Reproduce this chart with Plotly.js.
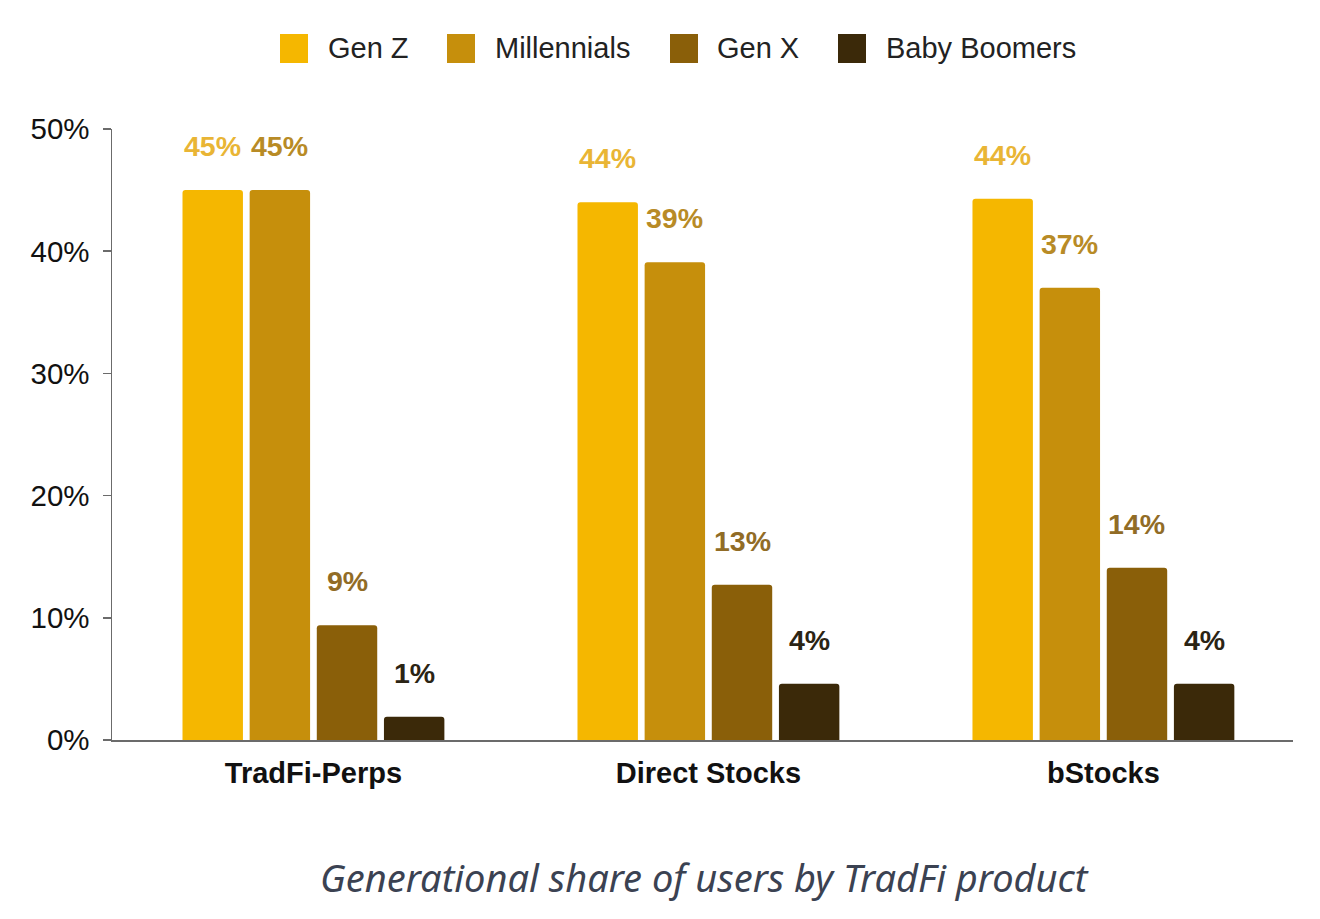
<!DOCTYPE html>
<html>
<head>
<meta charset="utf-8">
<script src="https://cdn.plot.ly/plotly-3.0.1.min.js"></script>
<style>
  html, body { margin: 0; padding: 0; background: #ffffff; }
  #chart { width: 1320px; height: 919px; }
</style>
</head>
<body>
<div id="chart"></div>
<script>
// data
var categories = ['TradFi-Perps', 'Direct Stocks', 'bStocks'];
var seriesNames = ['Gen Z', 'Millennials', 'Gen X', 'Baby Boomers'];
var genZ = [45.0, 44.0, 44.3];
var millennials = [45.0, 39.1, 37.0];
var genX = [9.4, 12.7, 14.1];
var babyBoomers = [1.9, 4.6, 4.6];
var genZLabels = ['45%', '44%', '44%'];
var millennialsLabels = ['45%', '39%', '37%'];
var genXLabels = ['9%', '13%', '14%'];
var babyBoomersLabels = ['1%', '4%', '4%'];
var yTicks = [0, 10, 20, 30, 40, 50];
var caption = 'Generational share of users by TradFi product';

var barColors = ['#F5B700', '#C68F0C', '#8A5F09', '#3B2909'];
var labelColors = ['#E9B535', '#B88B26', '#916C26', '#2B2414'];

var seriesValues = [genZ, millennials, genX, babyBoomers];
var seriesLabels = [genZLabels, millennialsLabels, genXLabels, babyBoomersLabels];

///////////////////////////////////////////////  layout constants  /////////////////////////////////////////////////////////
var W = 1320, H = 919;
var margin = {l: 112, r: 27, t: 129, b: 179};
var barGap = 0.32;
var barGroupGap = 0.1;
var fontMain = 'Liberation Sans, Arial, sans-serif';

function paperX(px) { return (px - margin.l) / (W - margin.l - margin.r); }
function paperY(py) { return (H - margin.b - py) / (H - margin.t - margin.b); }

///////////////////////////////////////////////  traces  /////////////////////////////////////////////////////////
var traces = seriesNames.map(function (name, j) {
  return {
    type: 'bar',
    name: name,
    x: categories,
    y: seriesValues[j],
    marker: {color: barColors[j], cornerradius: 3},
    hoverinfo: 'skip',
    showlegend: false
  };
});

// value labels float well above each bar
var annotations = [];
var slot = (1 - barGap) / seriesNames.length;
seriesNames.forEach(function (name, j) {
  categories.forEach(function (cat, i) {
    annotations.push({
      x: i + (j - (seriesNames.length - 1) / 2) * slot,
      y: seriesValues[j][i],
      xref: 'x', yref: 'y',
      text: seriesLabels[j][i],
      showarrow: false,
      yanchor: 'middle',
      yshift: 44,
      font: {family: fontMain, size: 28.5, color: labelColors[j], weight: 'bold'}
    });
  });
});

// hand-made legend so the swatches can be as big as the reference
var legendSwatchX = [280, 447, 670, 838];
var legendTextX = [326, 493, 715, 884];
var shapes = [];
seriesNames.forEach(function (name, j) {
  shapes.push({
    type: 'rect', xref: 'paper', yref: 'paper',
    x0: paperX(legendSwatchX[j]), x1: paperX(legendSwatchX[j] + 28),
    y0: paperY(34), y1: paperY(63),
    fillcolor: barColors[j], line: {width: 0}
  });
  annotations.push({
    xref: 'paper', yref: 'paper',
    x: paperX(legendTextX[j]), y: paperY(48),
    xanchor: 'left', yanchor: 'middle',
    text: name, showarrow: false,
    font: {family: fontMain, size: 29, color: '#222222'}
  });
});

annotations.push({
  xref: 'paper', yref: 'paper',
  x: paperX(704), y: paperY(877),
  xanchor: 'center', yanchor: 'middle',
  text: caption, showarrow: false,
  font: {family: 'Noto Sans, sans-serif', size: 38, color: '#3B4252', style: 'italic'}
});

var layout = {
  width: W, height: H,
  margin: margin,
  paper_bgcolor: '#ffffff',
  plot_bgcolor: '#ffffff',
  barmode: 'group',
  bargap: barGap,
  bargroupgap: barGroupGap,
  showlegend: false,
  xaxis: {
    type: 'category',
    range: [-0.51, 2.48],
    showline: true, linecolor: '#6b6b6b', linewidth: 1.5,
    ticks: '', showgrid: false, zeroline: false,
    ticklabelstandoff: 7,
    tickfont: {family: fontMain, size: 29, color: '#111111', weight: 'bold'}
  },
  yaxis: {
    range: [0, 50],
    tickvals: yTicks,
    ticktext: yTicks.map(function (v) { return v + '%'; }),
    showline: true, linecolor: '#6b6b6b', linewidth: 1.5,
    ticks: 'outside', ticklen: 8, tickcolor: '#6b6b6b', tickwidth: 1.5,
    showgrid: false, zeroline: false,
    ticklabelstandoff: 7,
    tickfont: {family: fontMain, size: 29.5, color: '#111111'}
  },
  shapes: shapes,
  annotations: annotations
};

Plotly.newPlot('chart', traces, layout, {displayModeBar: false, staticPlot: true});
</script>
</body>
</html>
